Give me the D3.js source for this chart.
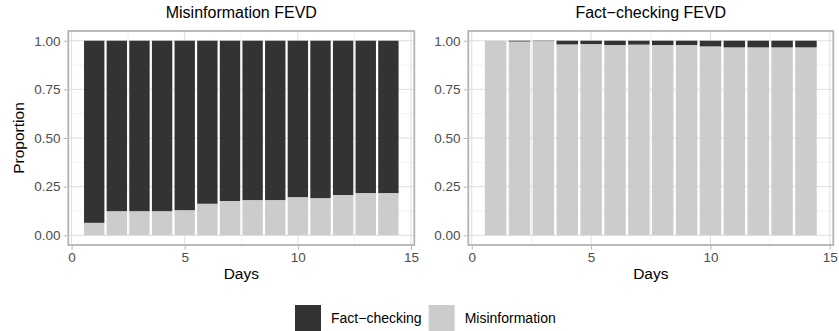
<!DOCTYPE html>
<html>
<head>
<meta charset="utf-8">
<script src="https://cdn.jsdelivr.net/npm/d3@7"></script>
<style>
  body { margin: 0; background: #fff; }
  svg { display: block; font-family: "Liberation Sans", Arial, sans-serif; }
</style>
</head>
<body>
<svg id="chart" width="839" height="331"></svg>
<script>
// data
const days = [1, 2, 3, 4, 5, 6, 7, 8, 9, 10, 11, 12, 13, 14];
const seriesNames = ['Fact\u2212checking', 'Misinformation'];

// Misinformation FEVD panel
const misinfoFevdFact = [0.936, 0.876, 0.876, 0.876, 0.871, 0.838, 0.824, 0.819, 0.819, 0.804, 0.809, 0.793, 0.783, 0.783];
const misinfoFevdMisinfo = [0.064, 0.124, 0.124, 0.124, 0.129, 0.162, 0.176, 0.181, 0.181, 0.196, 0.191, 0.207, 0.217, 0.217];

// Fact-checking FEVD panel
const factFevdFact = [0.000, 0.004, 0.002, 0.019, 0.017, 0.022, 0.020, 0.022, 0.022, 0.029, 0.034, 0.034, 0.034, 0.034];
const factFevdMisinfo = [1.000, 0.996, 0.998, 0.981, 0.983, 0.978, 0.980, 0.978, 0.978, 0.971, 0.966, 0.966, 0.966, 0.966];

const xTicks = [0, 5, 10, 15];
const xMinor = [2.5, 7.5, 12.5];
const yTicks = [0, 0.25, 0.5, 0.75, 1];
const yMinor = [0.125, 0.375, 0.625, 0.875];

const colours = { 'Fact\u2212checking': '#333333', 'Misinformation': '#cccccc' };

const svg = d3.select('#chart');

function drawPanel(cfg) {
    let vis = {};
    vis.x = d3.scaleLinear()
        .domain([-0.145, 15.145])
        .range([cfg.left, cfg.right]);
    vis.y = d3.scaleLinear()
        .domain([-0.05, 1.05])
        .range([cfg.bottom, cfg.top]);

    const g = svg.append('g');

    // grid
    g.selectAll('.ymin').data(yMinor).enter().append('line')
        .attr('x1', cfg.left).attr('x2', cfg.right)
        .attr('y1', d => vis.y(d)).attr('y2', d => vis.y(d))
        .attr('stroke', '#ebebeb').attr('stroke-width', 0.6);
    g.selectAll('.xmin').data(xMinor).enter().append('line')
        .attr('y1', cfg.top).attr('y2', cfg.bottom)
        .attr('x1', d => vis.x(d)).attr('x2', d => vis.x(d))
        .attr('stroke', '#ebebeb').attr('stroke-width', 0.6);
    g.selectAll('.ymaj').data(yTicks).enter().append('line')
        .attr('x1', cfg.left).attr('x2', cfg.right)
        .attr('y1', d => vis.y(d)).attr('y2', d => vis.y(d))
        .attr('stroke', '#dedede').attr('stroke-width', 1);
    g.selectAll('.xmaj').data(xTicks).enter().append('line')
        .attr('y1', cfg.top).attr('y2', cfg.bottom)
        .attr('x1', d => vis.x(d)).attr('x2', d => vis.x(d))
        .attr('stroke', '#dedede').attr('stroke-width', 1);

    // stacked bars
    const rows = days.map((d, i) => ({ day: d, 'Fact\u2212checking': cfg.fact[i], 'Misinformation': cfg.misinfo[i] }));
    const stack = d3.stack().keys(['Misinformation', 'Fact\u2212checking'])(rows);

    g.selectAll('.layer').data(stack).enter().append('g')
        .attr('fill', d => colours[d.key])
        .selectAll('rect').data(d => d).enter().append('rect')
        .attr('x', d => vis.x(d.data.day - 0.45))
        .attr('width', d => vis.x(d.data.day + 0.45) - vis.x(d.data.day - 0.45))
        .attr('y', d => vis.y(d[1]))
        .attr('height', d => vis.y(d[0]) - vis.y(d[1]));

    // border
    g.append('rect')
        .attr('x', cfg.left).attr('y', cfg.top)
        .attr('width', cfg.right - cfg.left).attr('height', cfg.bottom - cfg.top)
        .attr('fill', 'none').attr('stroke', '#b3b3b3').attr('stroke-width', 1.8);

    // axes
    const xAxis = d3.axisBottom(vis.x).tickValues(xTicks).tickSize(3.7).tickPadding(3);
    const yAxis = d3.axisLeft(vis.y).tickValues(yTicks).tickSize(3.7).tickPadding(3)
        .tickFormat(d3.format('.2f'));

    const xg = g.append('g').attr('transform', `translate(0,${cfg.bottom + 1})`).call(xAxis);
    const yg = g.append('g').attr('transform', `translate(${cfg.left - 1},0)`).call(yAxis);
    [xg, yg].forEach(a => {
        a.select('.domain').remove();
        a.selectAll('line').attr('stroke', '#b3b3b3').attr('stroke-width', 1);
        a.selectAll('text').attr('fill', '#4d4d4d').style('font-size', '13.5px')
            .style('font-family', '"Liberation Sans", Arial, sans-serif');
    });

    // titles
    svg.append('text')
        .attr('x', (cfg.left + cfg.right) / 2).attr('y', 18)
        .attr('text-anchor', 'middle').style('font-size', '16px').attr('fill', '#000')
        .text(cfg.title);
    svg.append('text')
        .attr('x', (cfg.left + cfg.right) / 2).attr('y', 279)
        .attr('text-anchor', 'middle').style('font-size', '15.5px').attr('fill', '#000')
        .text('Days');
    if (cfg.yTitle) {
        svg.append('text')
            .attr('transform', `translate(24,${(cfg.top + cfg.bottom) / 2}) rotate(-90)`)
            .attr('text-anchor', 'middle').style('font-size', '15.5px').attr('fill', '#000')
            .text(cfg.yTitle);
    }
}

drawPanel({ left: 68.3, right: 414.3, top: 31, bottom: 245, title: 'Misinformation FEVD',
    yTitle: 'Proportion', fact: misinfoFevdFact, misinfo: misinfoFevdMisinfo });
drawPanel({ left: 468.3, right: 833.3, top: 31, bottom: 245, title: 'Fact\u2212checking FEVD',
    yTitle: null, fact: factFevdFact, misinfo: factFevdMisinfo });

// legend
const legend = svg.append('g');
let lx = 295;
seriesNames.forEach(name => {
    legend.append('rect')
        .attr('x', lx).attr('y', 305).attr('width', 26).attr('height', 26)
        .attr('fill', colours[name]);
    const t = legend.append('text')
        .attr('x', lx + 36).attr('y', 323)
        .style('font-size', '14px').attr('fill', '#000')
        .text(name);
    lx += 36 + t.node().getComputedTextLength() + 7;
});
</script>
</body>
</html>
